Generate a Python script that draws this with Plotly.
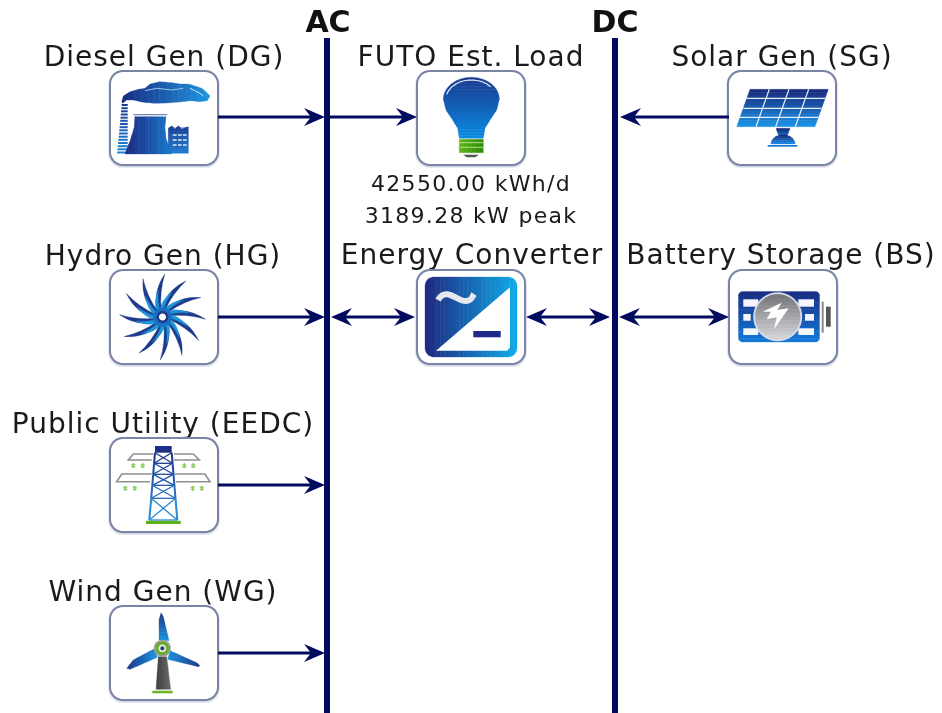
import math
import plotly.graph_objects as go

# --- content of the diagram ---
BUS_NAMES = ["AC", "DC"]
NODE_NAMES = [
    "Diesel Gen (DG)",
    "FUTO Est. Load",
    "Solar Gen (SG)",
    "Hydro Gen (HG)",
    "Energy Converter",
    "Battery Storage (BS)",
    "Public Utility (EEDC)",
    "Wind Gen (WG)",
]
LOAD_TEXT = ["42550.00 kWh/d", "3189.28 kW peak"]

# --- placement, in page pixels ---
BUS_X = [327, 615]
NODE_X = [164, 471, 782, 164, 471, 783, 164, 164]
NODE_TOP = [71, 71, 71, 270, 270, 270, 438, 606]
LABEL_X = [164, 471, 782, 163, 472, 781, 163, 163]
LABEL_Y = [59, 59, 59, 258, 257, 257, 426, 594]
BOX_W, BOX_H = 108, 94

# start x, end x, y, head at start, head at end
LINKS = [
    (218, 325, 117, False, True),
    (330, 417, 117, False, True),
    (729, 620, 117, False, True),
    (218, 325, 317, False, True),
    (331, 415, 317, True, True),
    (526, 610, 317, True, True),
    (619, 729, 317, True, True),
    (218, 325, 485, False, True),
    (218, 325, 653, False, True),
]

NAVY = "#020b60"
shapes = []


def mix(c1, c2, t):
    a = [int(c1[i:i + 2], 16) for i in (1, 3, 5)]
    b = [int(c2[i:i + 2], 16) for i in (1, 3, 5)]
    return "#%02x%02x%02x" % tuple(round(a[i] + (b[i] - a[i]) * t) for i in range(3))


def to_path(pts, close=True):
    d = "M " + " L ".join(f"{x:.1f} {y:.1f}" for x, y in pts)
    return d + (" Z" if close else "")


def poly(pts, fill, line=None, width=0):
    shapes.append(dict(type="path", path=to_path(pts), fillcolor=fill,
                       line=dict(color=line or fill, width=width)))


def stroke(pts, color, width):
    shapes.append(dict(type="path", path=to_path(pts, close=False),
                       line=dict(color=color, width=width)))


def clip_side(pts, axis, limit, keep_low):
    out = []
    for i, p in enumerate(pts):
        q = pts[(i + 1) % len(pts)]
        p_in = p[axis] <= limit if keep_low else p[axis] >= limit
        q_in = q[axis] <= limit if keep_low else q[axis] >= limit
        if p_in:
            out.append(p)
        if p_in != q_in:
            t = (limit - p[axis]) / (q[axis] - p[axis])
            out.append((p[0] + (q[0] - p[0]) * t, p[1] + (q[1] - p[1]) * t))
    return out


def gradient(pts, c1, c2, axis=1, bands=14):
    # shapes have no gradient fill, so slice the polygon into thin bands
    lo = min(p[axis] for p in pts)
    hi = max(p[axis] for p in pts)
    step = (hi - lo) / bands
    for i in range(bands):
        part = clip_side(pts, axis, lo + i * step, False)
        if part:
            part = clip_side(part, axis, lo + (i + 1) * step + 0.3, True)
        if len(part) > 2:
            color = mix(c1, c2, i / (bands - 1))
            poly(part, color, color, 0.3)


def crop(pts, ox, oy):
    return [(ox + x / 3, oy + y / 3) for x, y in pts]


def ellipse(cx, cy, rx, ry, a0=0, a1=360, n=40):
    return [(cx + rx * math.cos(math.radians(a0 + (a1 - a0) * i / n)),
             cy + ry * math.sin(math.radians(a0 + (a1 - a0) * i / n))) for i in range(n + 1)]


def round_rect(x0, y0, x1, y1, r):
    pts = []
    for cx, cy, a in [(x1 - r, y0 + r, -90), (x1 - r, y1 - r, 0), (x0 + r, y1 - r, 90), (x0 + r, y0 + r, 180)]:
        pts += ellipse(cx, cy, r, r, a, a + 90, 8)
    return pts


def box(cx, top):
    x0, x1 = cx - BOX_W / 2, cx + BOX_W / 2
    y1 = top + BOX_H
    poly(round_rect(x0 - 2, top - 1, x1 + 2, y1 + 3, 15), "#e6e8ef")
    poly(round_rect(x0 - 1, top, x1 + 1, y1 + 2, 14), "#d0d4e0")
    poly(round_rect(x0, top, x1, y1, 13), "#ffffff", "#7a85a6", 2)


def arrow_head(tip, y, direction):
    poly([(tip, y), (tip - direction * 21, y - 9), (tip - direction * 14, y), (tip - direction * 21, y + 9)], NAVY)


def link(x0, x1, y, head0, head1):
    d = 1 if x1 > x0 else -1
    stroke([(x0 + (d * 8 if head0 else 0), y), (x1 - d * 8, y)], NAVY, 3)
    if head0:
        arrow_head(x0, y, -d)
    if head1:
        arrow_head(x1, y, d)


def diesel_icon():
    ox, oy = 100, 60
    cloud = [(65, 125), (70, 108), (90, 95), (115, 88), (135, 85), (150, 72), (180, 65), (215, 68), (240, 72),
             (265, 72), (285, 78), (305, 85), (318, 95), (330, 108), (322, 122), (300, 125), (270, 122),
             (240, 126), (200, 129), (165, 130), (130, 127), (100, 120), (80, 120), (68, 130)]
    gradient(crop(cloud, ox, oy), "#1b2f85", "#1f93dc", axis=0)
    stroke(crop([(135, 92), (170, 85), (215, 90), (250, 85)], ox, oy), "#9cc3e8", 1)
    stroke(crop([(270, 85), (300, 100), (310, 108)], ox, oy), "#cfe3f5", 1)
    for i in range(16):
        y = 135 + i * 9.5
        stroke(crop([(65 - i * 0.9, y), (83, y)], ox, oy), mix("#1e3a8e", "#1d86d8", i / 15), 2)
    tower = [(105, 170), (198, 170), (194, 200), (198, 235), (215, 282), (75, 282), (93, 235), (103, 200)]
    gradient(crop(tower, ox, oy), "#1b2c82", "#1b78cc", axis=0)
    stroke(crop([(100, 164), (202, 164)], ox, oy), "#5a6a9a", 1)
    plant = [(205, 205), (215, 197), (225, 207), (235, 197), (245, 207), (265, 200), (265, 280), (205, 280)]
    gradient(crop(plant, ox, oy), "#1c3f96", "#1b78cc")
    for y in (225, 240, 255):
        stroke(crop([(218, y), (260, y)], ox, oy), "#ffffff", 1.3)
    for x in (232, 247):
        stroke(crop([(x, 218), (x, 265)], ox, oy), "#1b5fb5", 1.3)


def load_icon():
    ox, oy = 400, 60
    bulb = ellipse(214, 118, 84, 66, 180, 360, 30)
    bulb += [(290, 150), (270, 180), (255, 205), (250, 235), (178, 235), (173, 205), (158, 180), (138, 150)]
    gradient(crop(bulb, ox, oy), "#1a3b92", "#0c8ae0", bands=20)
    stroke(crop(ellipse(214, 118, 76, 58, 195, 320, 20), ox, oy), "#e8eefa", 1.2)
    gradient(crop([(178, 238), (250, 238), (250, 278), (178, 278)], ox, oy), "#5cb317", "#2f8c08", axis=0, bands=6)
    for y in (248, 262):
        stroke(crop([(174, y), (254, y)], ox, oy), "#b8dc90", 1)
    poly(crop([(190, 284), (236, 284), (226, 292), (200, 292)], ox, oy), "#555555")


def solar_icon():
    ox, oy = 400, 60
    panel = [(1050, 88), (1285, 88), (1245, 200), (1010, 200)]
    gradient(crop(panel, ox, oy), "#1a2c7e", "#1a90e4", bands=12)
    for y in (115, 145, 172):
        t = (y - 88) / 112
        stroke(crop([(1050 - 40 * t, y), (1285 - 40 * t, y)], ox, oy), "#e8f0fa", 1.2)
    for top, bottom in [(1108, 1068), (1167, 1127), (1226, 1186)]:
        stroke(crop([(top, 88), (bottom, 200)], ox, oy), "#e8f0fa", 1.2)
    gradient(crop([(1128, 205), (1170, 205), (1160, 232), (1138, 232)], ox, oy), "#1a2c7e", "#1a7ad0", bands=5)
    gradient(crop(ellipse(1149, 252, 36, 28, 180, 360, 16), ox, oy), "#1a2c7e", "#1a86dc", bands=5)
    poly(crop([(1103, 255), (1192, 255), (1192, 260), (1103, 260)], ox, oy), "#1a7ad0")


def blade(cx, cy, tip_r, tip_a, color):
    def at(r, a):
        return f"{cx + r * math.cos(math.radians(a)):.1f} {cy + r * math.sin(math.radians(a)):.1f}"
    shapes.append(dict(type="path", fillcolor=color, line=dict(color=color, width=0.4), path=(
        f"M {at(7, tip_a - 14)} Q {at(tip_r * 0.6, tip_a - 10)} {at(tip_r, tip_a)} "
        f"Q {at(tip_r * 0.62, tip_a - 26)} {at(7, tip_a - 42)} Z")))


def hydro_icon():
    cx, cy = 162.5, 317
    for k in range(12):
        a = -87 + k * 30
        blade(cx, cy, 43, a, "#1f3a8c")
        blade(cx, cy, 27, a - 12, "#1c96d6")
    poly(ellipse(cx, cy, 9.5, 9.5), "#1b6fc0")
    poly(ellipse(cx, cy, 6, 6), "#1f3a8c")
    poly(ellipse(cx, cy, 3.5, 3.5), "#ffffff")


def converter_icon():
    ox, oy = 400, 260
    gradient(round_rect(425, 277, 517, 357, 9), "#1f2b82", "#10a9e6", axis=0, bands=24)
    poly(crop([(330, 82), (330, 262), (322, 272), (108, 272)], ox, oy), "#ffffff")
    shapes.append(dict(type="path", line=dict(color="#e6e8f0", width=6), path=(
        "M 438 300 C 446 286, 458 302, 466 301 C 472 301, 472 297, 474 294")))
    poly(crop([(220, 213), (302, 213), (302, 232), (220, 232)], ox, oy), "#1f2a8a")


def battery_icon():
    ox, oy = 400, 260
    gradient(round_rect(738.5, 291.5, 819.5, 342, 4), "#1a2f85", "#1278d6", bands=14)
    for x0, x1 in [(1030, 1075), (1195, 1242)]:
        for y0, y1 in [(118, 140), (205, 225)]:
            poly(crop([(x0, y0), (x1, y0), (x1, y1), (x0, y1)], ox, oy), "#f4f6fb")
    for x0, x1 in [(1030, 1052), (1215, 1242)]:
        poly(crop([(x0, 162), (x1, 162), (x1, 182), (x0, 182)], ox, oy), "#f4f6fb")
    poly(ellipse(777.7, 316.7, 24.5, 24.5), "#d8dce6")
    gradient(ellipse(777.7, 316.7, 22.5, 22.5), "#77787c", "#d2d3d6", bands=12)
    bolt = [(1088, 155), (1145, 128), (1132, 150), (1166, 145), (1122, 208), (1130, 172), (1100, 178), (1112, 155)]
    poly(crop(bolt, ox, oy), "#ffffff")
    poly(crop([(1265, 125), (1271, 125), (1271, 218), (1265, 218)], ox, oy), "#8a8a8a")
    poly(crop([(1278, 140), (1292, 140), (1292, 200), (1278, 200)], ox, oy), "#555555")


def pylon_icon():
    ox, oy = 100, 430
    grey = "#8f8f8f"
    for arm in ([(155, 90), (85, 90), (100, 72), (160, 72)], [(222, 90), (298, 90), (280, 72), (222, 72)],
                [(150, 155), (50, 155), (65, 132), (155, 132)], [(228, 155), (330, 155), (315, 132), (224, 132)]):
        stroke(crop(arm, ox, oy), grey, 1.6)
    for x, y in [(100, 107), (128, 107), (253, 107), (280, 107), (76, 175), (104, 175), (278, 175), (305, 175)]:
        stroke(crop([(x, y - 8), (x, y + 8)], ox, oy), "#8ccc5c", 1.4)
        stroke(crop([(x - 6, y - 3), (x + 6, y - 3)], ox, oy), "#8ccc5c", 1.4)
        stroke(crop([(x - 6, y + 3), (x + 6, y + 3)], ox, oy), "#8ccc5c", 1.4)
    levels = [68, 100, 133, 166, 205, 270]

    def half(y):
        return 25 + (y - 68) / 202 * 17

    def shade(y):
        return mix("#1e2f86", "#2a9ae4", (y - 68) / 202)

    for y0, y1 in zip(levels, levels[1:]):
        c = shade((y0 + y1) / 2)
        for s in (-1, 1):
            stroke(crop([(190 + s * half(y0), y0), (190 + s * half(y1), y1)], ox, oy), c, 2)
            stroke(crop([(190 + s * half(y0), y0), (190 - s * half(y1), y1)], ox, oy), c, 1.3)
        stroke(crop([(190 - half(y1), y1), (190 + half(y1), y1)], ox, oy), c, 1.3)
    poly(crop([(165, 48), (215, 48), (215, 68), (165, 68)], ox, oy), "#1e2f86")
    poly(crop([(138, 272), (242, 272), (242, 282), (138, 282)], ox, oy), "#5fae1e")


def wind_icon():
    ox, oy = 100, 600
    gradient(crop([(175, 170), (200, 170), (212, 268), (168, 268)], ox, oy), "#444444", "#666666", axis=0, bands=5)
    poly(crop([(157, 272), (218, 272), (218, 280), (157, 280)], ox, oy), "#6fb52c")
    gradient(crop([(183, 38), (190, 50), (207, 122), (177, 120), (177, 60)], ox, oy), "#1f3a8c", "#1c8fdc", bands=10)
    gradient(crop([(80, 205), (100, 180), (165, 145), (172, 172), (90, 208)], ox, oy), "#1f3a8c", "#1c8fdc", axis=0, bands=10)
    gradient(crop([(300, 197), (295, 200), (203, 178), (210, 152), (290, 188)], ox, oy), "#1c8fdc", "#1f3a8c", axis=0, bands=10)
    cx, cy = ox + 187 / 3, oy + 145 / 3
    poly(ellipse(cx, cy, 8.5, 8.5), "#9a9f95")
    poly(ellipse(cx, cy, 6.5, 6.5), "#5fae1e")
    poly(ellipse(cx, cy, 4, 4), "#dfe8d0")
    poly(ellipse(cx, cy, 2, 2), "#1f3a8c")


for cx, top in zip(NODE_X, NODE_TOP):
    box(cx, top)
for draw_icon in (diesel_icon, load_icon, solar_icon, hydro_icon, converter_icon, battery_icon, pylon_icon, wind_icon):
    draw_icon()
for x0, x1, y, head0, head1 in LINKS:
    link(x0, x1, y, head0, head1)
for x in BUS_X:
    shapes.append(dict(type="line", x0=x, x1=x, y0=38, y1=713, line=dict(color=NAVY, width=6)))

fig = go.Figure()
fig.add_trace(go.Scatter(x=LABEL_X, y=LABEL_Y, text=NODE_NAMES, mode="text", textposition="middle center",
                         textfont=dict(family="DejaVu Sans", size=28, color="#1a1a1a"), hoverinfo="skip"))
fig.add_trace(go.Scatter(x=[471, 471], y=[185, 217], text=LOAD_TEXT, mode="text", textposition="middle center",
                         textfont=dict(family="DejaVu Sans", size=22, color="#1a1a1a"), hoverinfo="skip"))
fig.add_trace(go.Scatter(x=[328, 615], y=[24, 24], text=BUS_NAMES, mode="text", textposition="middle center",
                         textfont=dict(family="DejaVu Sans", size=30, color="#111111", weight="bold"), hoverinfo="skip"))
fig.update_layout(
    width=942, height=713, margin=dict(l=0, r=0, t=0, b=0), showlegend=False,
    paper_bgcolor="white", plot_bgcolor="white", shapes=shapes,
    xaxis=dict(range=[0, 942], visible=False, fixedrange=True),
    yaxis=dict(range=[713, 0], visible=False, fixedrange=True),
)

# the reference is a slightly soft, stretched raster: widen the text and soften the page
page_css = """
document.body.style.margin = '0';
document.body.style.overflow = 'hidden';
var tr = document.querySelectorAll('.scatterlayer .trace');
tr[0].querySelectorAll('text').forEach(function (t) { t.style.letterSpacing = '1px'; });
tr[1].querySelectorAll('text').forEach(function (t) { t.style.letterSpacing = '1.3px'; });
document.querySelector('.svg-container').style.filter = 'blur(0.5px)';
"""
fig.write_html("out.html", config=dict(displayModeBar=False), post_script=page_css)
